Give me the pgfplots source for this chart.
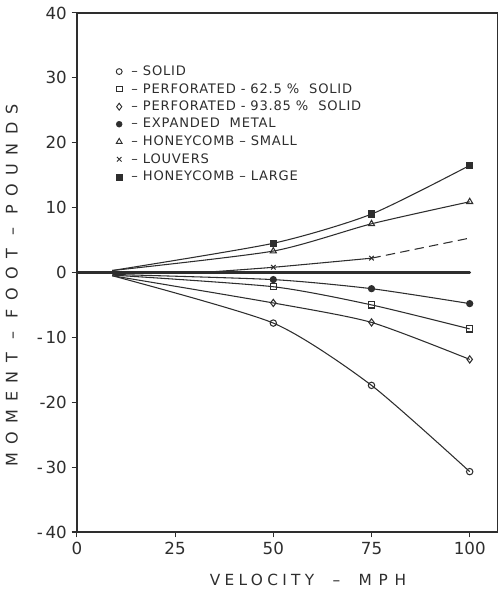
\documentclass[border=0pt]{standalone}
\usepackage{fontspec}
\setmainfont{DejaVu Sans}
\usepackage{pgfplots}
\pgfplotsset{compat=1.18}

\definecolor{ink}{HTML}{2E2E2E}

\begin{document}
\begin{tikzpicture}
\begin{axis}[
    width=315pt, height=389pt,
    scale only axis,
    xmin=0, xmax=107,
    ymin=-40, ymax=40,
    xtick={0,25,50,75,100},
    xticklabels={0,25,50,75,100},
    ytick={-40,-30,...,40},
    yticklabels={-\,40,-\,30,-20,-\,10,0,10,20,30,40},
    tick pos=left,
    tick align=outside,
    major tick length=4pt,
    tick style={ink, line width=0.8pt},
    axis line style={ink, line width=0.9pt},
    tick label style={font=\fontsize{12.5}{13}\selectfont, ink},
    /pgf/number format/assume math mode=true,
    clip=false,
    legend cell align=left,
    legend style={draw=none, fill=none, at={(0.093,0.904)}, anchor=north west,
        font=\fontsize{9.8}{11}\selectfont\addfontfeatures{LetterSpace=6}, text=ink,
        row sep=0.4pt, inner sep=0pt},
    legend image code/.code={\draw[#1] plot coordinates {(0cm,0cm)};},
]
% invisible frame: keeps the page the size of the reference
\path (rel axis cs:-0.183,-0.133) rectangle (rel axis cs:1.007,1.025);

% reference line at zero
\addplot[ink, line width=2.1pt, line cap=round, forget plot] coordinates {(0,0) (100,0)};

% solid
\addplot[ink, line width=0.8pt, smooth, tension=0.4, mark=o, mark size=2.4pt, mark indices={2,3,4},
    mark options={fill=white, line width=0.8pt}, forget plot]
    coordinates {(9,-0.5) (50,-7.8) (75,-17.4) (100,-30.7)};
% perforated 62.5 %
\addplot[ink, line width=0.8pt, smooth, tension=0.4, mark=square, mark size=2.3pt, mark indices={2,3,4},
    mark options={fill=white, line width=0.8pt}, forget plot]
    coordinates {(9,-0.4) (50,-2.2) (75,-5.0) (100,-8.7)};
% perforated 93.85 %
\addplot[ink, line width=0.8pt, smooth, tension=0.4, mark=diamond, mark size=2.7pt, mark indices={2,3,4},
    mark options={fill=white, line width=0.8pt}, forget plot]
    coordinates {(9,-0.5) (50,-4.7) (75,-7.7) (100,-13.4)};
% expanded metal
\addplot[ink, line width=0.8pt, smooth, tension=0.4, mark=*, mark size=2.3pt, mark indices={2,3,4},
    mark options={fill=ink}, forget plot]
    coordinates {(9,-0.3) (50,-1.1) (75,-2.5) (100,-4.8)};
% honeycomb small
\addplot[ink, line width=0.8pt, smooth, tension=0.4, mark=triangle, mark size=2.6pt, mark indices={2,3,4},
    mark options={fill=white, line width=0.8pt}, forget plot]
    coordinates {(9,0.3) (50,3.3) (75,7.5) (100,10.9)};
% louvers
\addplot[ink, line width=0.8pt, smooth, tension=0.4, mark=x, mark size=2.4pt, mark indices={2,3},
    mark options={line width=0.8pt}, forget plot]
    coordinates {(32,0) (50,0.8) (75,2.2)};
\addplot[ink, line width=0.8pt, dashed, dash pattern=on 7pt off 4pt, forget plot]
    coordinates {(75,2.2) (100,5.3)};
% honeycomb large
\addplot[ink, line width=0.8pt, smooth, tension=0.4, mark=square*, mark size=2.4pt, mark indices={2,3,4},
    mark options={fill=ink}, forget plot]
    coordinates {(9,0.3) (50,4.5) (75,9.0) (100,16.5)};

\addlegendimage{only marks, ink, mark=o, mark size=2.2pt, mark options={line width=0.7pt}}
\addlegendentry{\hspace{5pt}– SOLID}
\addlegendimage{only marks, ink, mark=square, mark size=2.1pt, mark options={line width=0.7pt}}
\addlegendentry{\hspace{5pt}– PERFORATED - 62.5 \%\ \ SOLID}
\addlegendimage{only marks, ink, mark=diamond, mark size=2.6pt, mark options={line width=0.7pt}}
\addlegendentry{\hspace{5pt}– PERFORATED - 93.85 \%\ \ SOLID}
\addlegendimage{only marks, ink, mark=*, mark size=2.2pt}
\addlegendentry{\hspace{5pt}– EXPANDED\ \ METAL}
\addlegendimage{only marks, ink, mark=triangle, mark size=2.5pt, mark options={line width=0.7pt}}
\addlegendentry{\hspace{5pt}– HONEYCOMB – SMALL}
\addlegendimage{only marks, ink, mark=x, mark size=2.4pt, mark options={line width=0.7pt}}
\addlegendentry{\hspace{5pt}– LOUVERS}
\addlegendimage{only marks, ink, mark=square*, mark size=2.2pt}
\addlegendentry{\hspace{5pt}– HONEYCOMB – LARGE}

\node[rotate=90, text=ink, font=\fontsize{12}{13}\selectfont\addfontfeatures{LetterSpace=52}]
    at (rel axis cs:-0.155,0.475) {MOMENT – FOOT – POUNDS};
\node[text=ink, font=\fontsize{11.5}{13}\selectfont\addfontfeatures{LetterSpace=28}]
    at (rel axis cs:0.55,-0.092) {VELOCITY\ \ –\ \ M\;\,P\;\,H};
\end{axis}
\end{tikzpicture}
\end{document}
